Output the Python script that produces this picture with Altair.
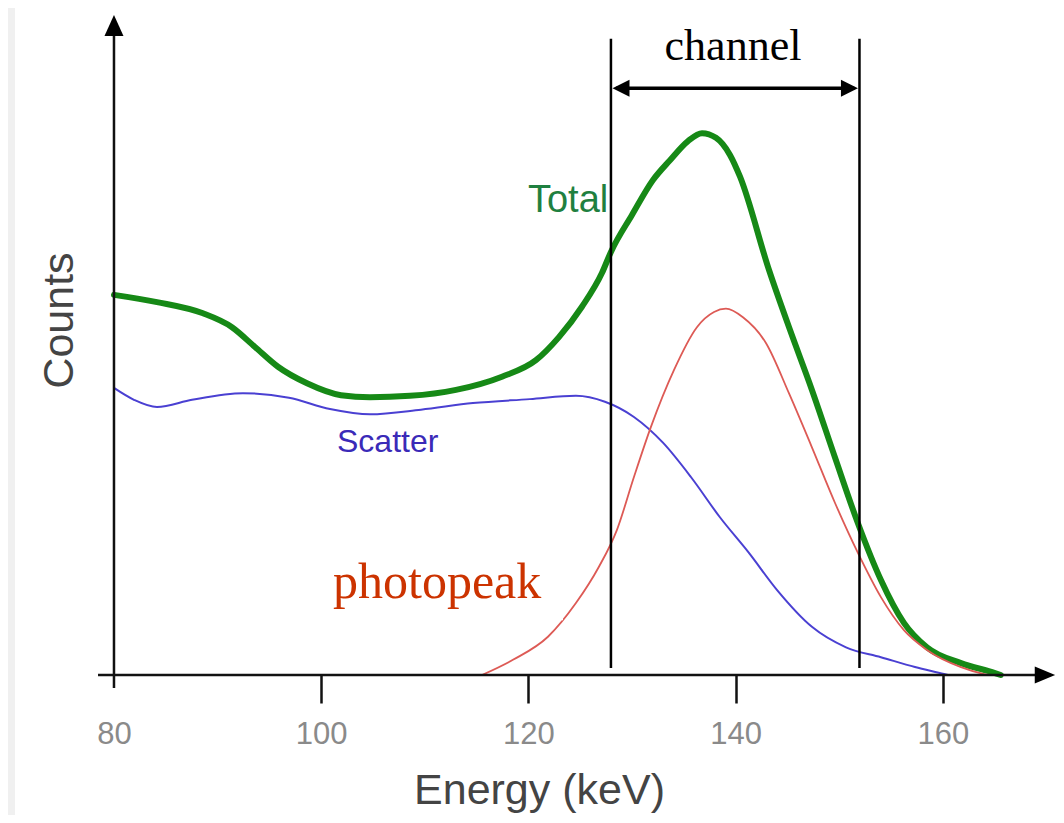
import altair as alt
import pandas as pd

# ---------------- data ----------------
total_energy = [80.0, 84.15, 88.59, 91.39, 93.61, 95.83, 98.63, 101.91, 104.71, 108.57,
                113.01, 117.45, 120.73, 122.95, 125.17, 127.10, 127.97, 130.0, 132.03,
                133.67, 135.41, 136.76, 138.11, 139.46, 140.43, 143.22, 145.25, 147.37,
                149.59, 151.81, 154.03, 156.25, 158.47, 161.76, 165.04, 165.6]
total_counts = [57.6, 56.5, 54.8, 52.7, 49.7, 46.7, 44.2, 42.4, 42.1, 42.3,
                43.2, 45.2, 47.7, 51.2, 55.8, 60.9, 64.1, 69.7, 75.0,
                78.0, 80.9, 82.1, 81.4, 78.8, 75.5, 61.4, 52.3, 43.2,
                33.0, 23.0, 14.4, 7.9, 4.2, 1.8, 0.3, 0.0]

scatter_energy = [80.0, 81.93, 84.15, 87.53, 92.45, 96.89, 100.85, 104.71, 109.63, 114.65,
                  120.15, 124.59, 127.39, 130.19, 132.99, 135.69, 138.49, 141.29, 143.99,
                  147.37, 150.66, 154.03, 157.32, 160.12, 160.5]
scatter_counts = [43.5, 41.7, 40.6, 41.7, 42.7, 42.0, 40.3, 39.5, 40.2, 41.2,
                  41.8, 42.3, 41.4, 39.1, 35.2, 30.0, 23.9, 18.5, 12.9,
                  7.3, 4.2, 2.7, 1.2, 0.15, 0.0]

photo_energy = [115.52, 118.51, 121.89, 124.59, 126.81, 128.55, 130.19, 131.83, 134.05,
                136.27, 137.92, 139.07, 140.71, 142.93, 145.15, 147.37, 149.59, 151.81,
                154.03, 156.25, 158.47, 161.76, 163.98, 164.5]
photo_counts = [0.0, 2.3, 5.8, 10.9, 16.4, 22.0, 30.0, 37.6, 46.2,
                52.7, 55.0, 55.5, 54.2, 50.3, 42.7, 34.5, 26.1, 18.5,
                11.8, 6.8, 3.8, 1.2, 0.15, 0.0]

x_ticks = [80, 100, 120, 140, 160]
channel_bounds = [127.97, 151.96]          # energy window (keV)

# annotation anchors (data coordinates)
total_label = ("Total", 119.96, 70.15)
scatter_label = ("Scatter", 101.53, 33.79)
photo_label = ("photopeak", 101.14, 11.67)
channel_label = ("channel", 139.75, 93.18)

# ---------------- scales / axes ----------------
W, H = 1048, 807
x_scale = alt.Scale(domain=[69.77, 170.93], nice=False, zero=False)
y_scale = alt.Scale(domain=[-21.21, 101.06], nice=False, zero=False)

x_axis = alt.Axis(
    values=x_ticks, orient="bottom", offset=-140, grid=False, domain=False, zindex=2,
    ticks=True, tickSize=28, tickWidth=2.5,
    tickColor={"condition": {"test": "datum.value === 80", "value": "rgba(0,0,0,0)"}, "value": "#111111"},
    labelFont="Liberation Sans", labelFontSize=31, labelColor="#8a8a8a",
    labelBaseline="alphabetic", labelPadding=40, labelFlush=False,
    title="Energy (keV)", titleFont="Liberation Sans", titleFontSize=43,
    titleFontWeight="normal", titleColor="#444444", titleX=531, titleY=128,
    titleAlign="center", titleBaseline="alphabetic",
)
y_axis = alt.Axis(
    grid=False, domain=False, ticks=False, labels=False, zindex=2,
    title="Counts", titleFont="Liberation Sans", titleFontSize=43,
    titleFontWeight="normal", titleColor="#444444", titleAngle=270,
    titleX=64, titleY=312, titleAlign="center", titleBaseline="alphabetic",
)

X = alt.X("e:Q", scale=x_scale, axis=x_axis)
Y = alt.Y("c:Q", scale=y_scale, axis=y_axis)

# ---------------- layers ----------------
one = pd.DataFrame({"k": [0]})
bg = alt.Chart(one).mark_rect(color="white").encode(
    x=alt.value(7), x2=alt.value(W), y=alt.value(0), y2=alt.value(H))

total_df = pd.DataFrame({"e": total_energy, "c": total_counts})
scatter_df = pd.DataFrame({"e": scatter_energy, "c": scatter_counts})
photo_df = pd.DataFrame({"e": photo_energy, "c": photo_counts})

total_line = alt.Chart(total_df).mark_line(
    color="#168916", strokeWidth=6, interpolate="monotone", strokeCap="round", strokeJoin="round"
).encode(x=X, y=Y)
scatter_line = alt.Chart(scatter_df).mark_line(
    color="#4a40d2", strokeWidth=2, interpolate="monotone"
).encode(x=X, y=Y)
photo_line = alt.Chart(photo_df).mark_line(
    color="#dd5a55", strokeWidth=1.8, interpolate="monotone"
).encode(x=X, y=Y)

# white box behind the "photopeak" label (it masks the red curve in the original)
mask_df = pd.DataFrame({"e": [100.85], "e2": [123.34], "c": [8.3], "c2": [17.5]})
mask = alt.Chart(mask_df).mark_rect(color="white").encode(x=X, x2="e2", y=Y, y2="c2")

# axes lines + arrowheads
xline_df = pd.DataFrame({"e": [78.46], "e2": [170.2], "c": [0.0]})
xline = alt.Chart(xline_df).mark_rule(color="#111111", strokeWidth=2.5).encode(x=X, x2="e2", y=Y)
yline_df = pd.DataFrame({"e": [80.0], "c": [-1.97], "c2": [98.0]})
yline = alt.Chart(yline_df).mark_rule(color="#111111", strokeWidth=2.5).encode(x=X, y=Y, y2="c2")

xarrow = alt.Chart(pd.DataFrame({"e": [170.85], "c": [0.0]})).mark_point(
    shape="M0,0 L-2.4,-1 L-2.4,1 Z", filled=True, size=289, color="black", opacity=1
).encode(x=X, y=Y)
yarrow = alt.Chart(pd.DataFrame({"e": [80.0], "c": [100.0]})).mark_point(
    shape="M0,0 L-1,2.2 L1,2.2 Z", filled=True, size=361, color="black", opacity=1
).encode(x=X, y=Y)

# channel window
chan_df = pd.DataFrame({"e": channel_bounds, "c": [1.06, 1.06], "c2": [96.4, 96.4]})
chan_lines = alt.Chart(chan_df).mark_rule(color="black", strokeWidth=2.5).encode(x=X, y=Y, y2="c2")
arrow_df = pd.DataFrame({"e": [channel_bounds[0] + 0.5], "e2": [channel_bounds[1] - 0.5], "c": [88.9]})
chan_arrow = alt.Chart(arrow_df).mark_rule(color="black", strokeWidth=3.5).encode(x=X, x2="e2", y=Y)
left_head = alt.Chart(pd.DataFrame({"e": [channel_bounds[0] + 0.15], "c": [88.9]})).mark_point(
    shape="M0,0 L2,-1 L2,1 Z", filled=True, size=289, color="black", opacity=1
).encode(x=X, y=Y)
right_head = alt.Chart(pd.DataFrame({"e": [channel_bounds[1] - 0.15], "c": [88.9]})).mark_point(
    shape="M0,0 L-2,-1 L-2,1 Z", filled=True, size=289, color="black", opacity=1
).encode(x=X, y=Y)


def label(spec, **kw):
    t, e, c = spec
    return alt.Chart(pd.DataFrame({"e": [e], "c": [c], "t": [t]})).mark_text(
        baseline="alphabetic", **kw).encode(x=X, y=Y, text="t:N")


total_txt = label(total_label, align="left", font="Liberation Sans", fontSize=38, color="#1f8040")
scatter_txt = label(scatter_label, align="left", font="Liberation Sans", fontSize=32, color="#3a2ab8")
photo_txt = label(photo_label, align="left", font="Liberation Serif", fontSize=50, color="#cc3300")
channel_txt = label(channel_label, align="center", font="Liberation Serif", fontSize=44, color="black")

chart = alt.layer(
    bg, total_line, scatter_line, photo_line, mask,
    xline, yline, xarrow, yarrow,
    chan_lines, chan_arrow, left_head, right_head,
    total_txt, scatter_txt, photo_txt, channel_txt,
).properties(
    width=W, height=H, background="#f0f0f0", padding=0,
    autosize=alt.AutoSizeParams(type="none"),
).configure_view(stroke=None)

chart.save("out.html", embed_options={"renderer": "svg", "actions": False})
